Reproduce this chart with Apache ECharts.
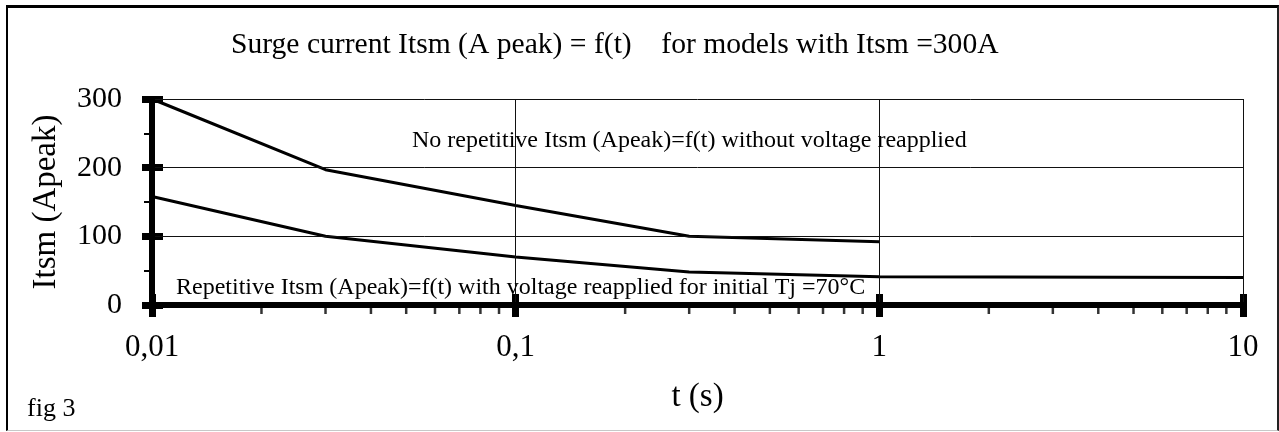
<!DOCTYPE html>
<html>
<head>
<meta charset="UTF-8">
<title>Surge current Itsm</title>
<script src="https://cdn.jsdelivr.net/npm/echarts@6/dist/echarts.min.js"></script>
<style>
body{
margin:0;
background:#fff;
}
.frame{
position:absolute;
left:6px;
top:5px;
width:1273px;
height:426px;
box-sizing:border-box;
border-left:2px solid #000;
border-top:3px solid #000;
border-right:2px solid #222;
border-bottom:1px solid #c8c8c8;
}
#chart{
position:absolute;
left:0;
top:0;
width:1279px;
height:432px;
}
</style>
</head>
<body>

<div class="frame"></div>
<div id="chart"></div>

<script>

// t (s) and Itsm (A peak)
const tNoRep = [0.01, 0.03, 0.1, 0.3, 1]
const iNoRep = [300, 197, 145, 100, 92]

const tRep = [0.01, 0.03, 0.1, 0.3, 1, 10]
const iRep = [158, 100, 70, 48, 41, 40]

const xTickLabels = ["0,01", "0,1", "1", "10"]
const yTicks = [0, 100, 200, 300]

// minor log ticks 2..9 of each decade
const xMinorTicks = [
 0.02, 0.03, 0.04, 0.05, 0.06, 0.07, 0.08, 0.09,
 0.2, 0.3, 0.4, 0.5, 0.6, 0.7, 0.8, 0.9,
 2, 3, 4, 5, 6, 7, 8, 9
]

const font = "Liberation Serif, Times New Roman, serif"
const ink = "#000"

const chart = echarts.init(document.getElementById("chart"))

const pairs = (xs, ys) => xs.map((x, i) => [x, ys[i]])

chart.setOption({

 animation:false,

 title:{
  text:"Surge current Itsm (A peak) = f(t)    for models with Itsm =300A",
  left:226,
  top:25,
  textStyle:{ fontFamily:font, fontSize:29.6, fontWeight:"normal", color:ink }
 },

 grid:{ left:152, right:36, top:99, bottom:127 },

 xAxis:[
  {
   type:"log",
   min:0.01,
   max:10,
   logBase:10,
   name:"t (s)",
   nameLocation:"middle",
   nameGap:76,
   nameTextStyle:{ fontFamily:font, fontSize:33, color:ink },
   axisLine:{ show:true, onZero:false, lineStyle:{ color:ink, width:6 } },
   axisTick:{ show:true, length:12, lineStyle:{ color:ink, width:7 } },
   axisLabel:{
    fontFamily:font, fontSize:31, color:ink, margin:27,
    formatter:(v, i) => xTickLabels[i] ?? v
   },
   splitLine:{ show:true, lineStyle:{ color:"#111", width:1 } },
   minorTick:{ show:false },
   z:5
  },
  {
   type:"log",
   min:0.01,
   max:10,
   logBase:10,
   axisLine:{ show:false },
   axisTick:{ show:true, inside:true, length:11, lineStyle:{ color:ink, width:7 } },
   axisLabel:{ show:false },
   splitLine:{ show:false },
   position:"bottom"
  }
 ],

 yAxis:[
  {
   type:"value",
   min:yTicks[0],
   max:yTicks[yTicks.length-1],
   interval:100,
   name:"Itsm (Apeak)",
   nameLocation:"middle",
   nameGap:89,
   nameTextStyle:{ fontFamily:font, fontSize:33, color:ink },
   axisLine:{ show:true, lineStyle:{ color:ink, width:6 } },
   axisTick:{ show:true, length:10, lineStyle:{ color:ink, width:7 } },
   minorTick:{ show:true, splitNumber:2, length:8, lineStyle:{ color:ink, width:2 } },
   axisLabel:{ fontFamily:font, fontSize:30, color:ink, margin:30 },
   splitLine:{ show:true, lineStyle:{ color:"#111", width:1 } },
   z:5
  },
  {
   type:"value",
   min:yTicks[0],
   max:yTicks[yTicks.length-1],
   interval:100,
   position:"left",
   axisLine:{ show:false },
   axisTick:{ show:true, inside:true, length:11, lineStyle:{ color:ink, width:7 } },
   axisLabel:{ show:false },
   splitLine:{ show:false }
  }
 ],

 graphic:[
  {
   type:"text",
   x:412, y:141,
   style:{
    text:"No repetitive Itsm (Apeak)=f(t) without voltage reapplied",
    font:"24px " + font, fill:ink, verticalAlign:"middle"
   },
   z:10
  },
  {
   type:"text",
   x:176, y:288,
   style:{
    text:"Repetitive Itsm (Apeak)=f(t) with voltage reapplied for initial Tj =70°C",
    font:"24px " + font, fill:ink, verticalAlign:"middle"
   },
   z:10
  },
  {
   type:"text",
   x:27, y:409,
   style:{ text:"fig 3", font:"26px " + font, fill:ink, verticalAlign:"middle" },
   z:10
  }
 ],

 series:[
  {
   name:"No repetitive",
   type:"line",
   data:pairs(tNoRep, iNoRep),
   showSymbol:false,
   lineStyle:{ color:ink, width:3 },
   z:3
  },
  {
   name:"Repetitive",
   type:"line",
   data:pairs(tRep, iRep),
   showSymbol:false,
   lineStyle:{ color:ink, width:3 },
   z:3
  },
  {
   name:"minor ticks",
   type:"scatter",
   data:xMinorTicks.map(t => [t, 0]),
   symbol:"rect",
   symbolSize:[2.5, 9],
   symbolOffset:[0, 4.5],
   itemStyle:{ color:ink },
   clip:false,
   silent:true,
   z:4
  }
 ]

})

</script>

</body>
</html>
